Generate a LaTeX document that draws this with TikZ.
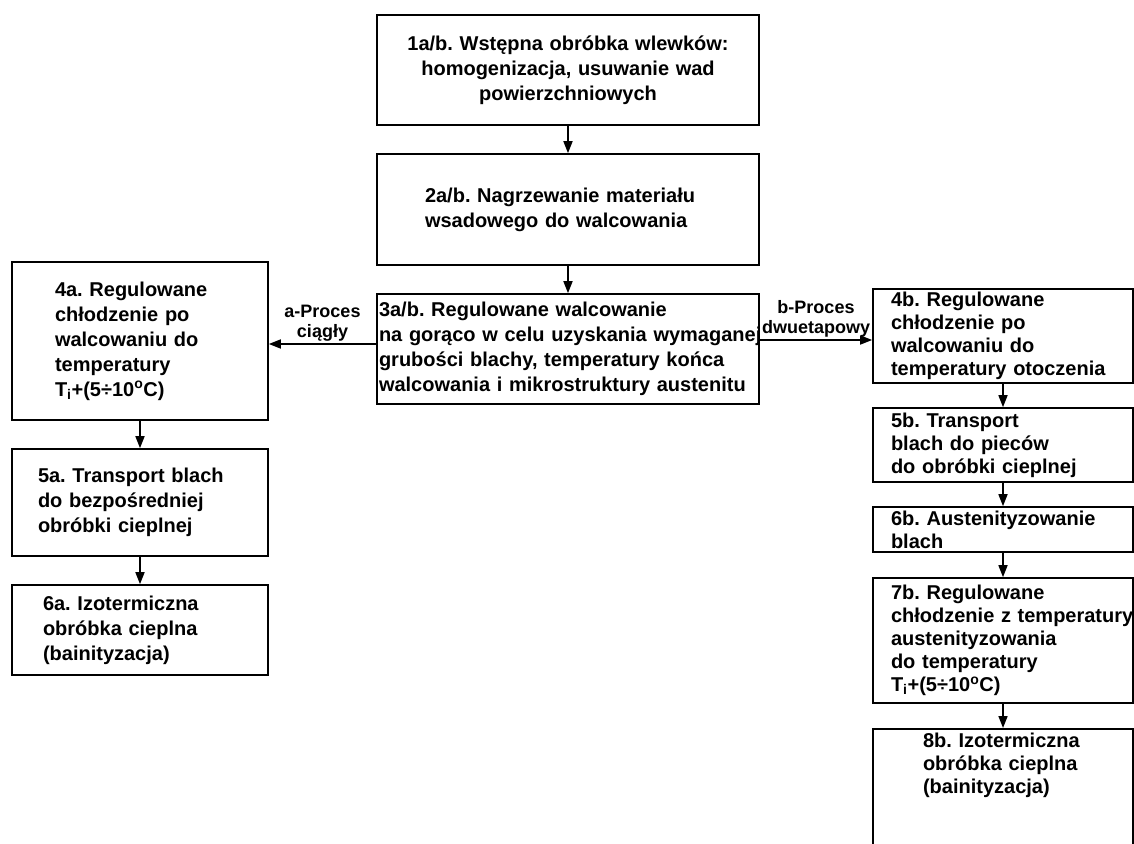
\documentclass[tikz,border=0pt]{standalone}
\usepackage{fontspec}
\setmainfont{Liberation Sans}
\usetikzlibrary{arrows.meta}
\frenchspacing
\hyphenpenalty=10000
\exhyphenpenalty=10000
\newcommand{\tempTi}{T\textsubscript{i}+(5÷10\textsuperscript{o}C)}
\newcommand{\boxfont}{\fontsize{20}{25}\selectfont\bfseries}
\newcommand{\boxfontB}{\fontsize{20}{23}\selectfont\bfseries}
\newcommand{\lblfont}{\fontsize{18}{20}\selectfont\bfseries}

\begin{document}
\begin{tikzpicture}[x=1pt,y=-1pt,
  stepbox/.style n args={3}{draw, line width=1.6pt, align=left, inner sep=0pt,
    font=\boxfont, minimum width=#1pt, minimum height=#2pt, text width=#3pt},
  arr/.style={line width=1.6pt, -{Triangle[length=12pt,width=9pt]}},
  lbl/.style={font=\lblfont, align=center, inner sep=2pt}]

 \useasboundingbox (0,0) rectangle (1134,843);
 \clip (0,0) rectangle (1134,843);

 \node[stepbox={382}{110}{370}, align=center] (obrWst) at (568,70)
   {1a/b. Wstępna obróbka wlewków:\\ homogenizacja, usuwanie wad\\ powierzchniowych};
 \node[stepbox={382}{111}{286}] (nagrz) at (568,209.5)
   {2a/b. Nagrzewanie materiału\\ wsadowego do walcowania};
 \node[stepbox={382}{110}{378}] (walc) at (568,349)
   {3a/b. Regulowane walcowanie\\ \mbox{na gorąco w celu uzyskania wymaganej}\\ grubości blachy, temperatury końca\\ walcowania i mikrostruktury austenitu};

 \node[stepbox={256}{158}{170}] (chlA) at (140,341)
   {4a. Regulowane\\ chłodzenie po\\ walcowaniu do\\ temperatury\\ \tempTi};
 \node[stepbox={256}{107}{204}] (trA) at (140,502.5)
   {5a. Transport blach\\ do bezpośredniej\\ obróbki cieplnej};
 \node[stepbox={256}{90}{194}] (izoA) at (140,630)
   {6a. Izotermiczna\\ obróbka cieplna\\ (bainityzacja)};

 \node[stepbox={260}{94}{224}, font=\boxfontB] (chlB) at (1003,336)
   {4b. Regulowane\\ chłodzenie po\\ walcowaniu do\\ temperatury otoczenia};
 \node[stepbox={260}{74}{224}, font=\boxfontB] (trB) at (1003,445)
   {5b. Transport\\ blach do pieców\\ do obróbki cieplnej};
 \node[stepbox={260}{45}{224}, font=\boxfontB] (austB) at (1003,529.5)
   {6b. Austenityzowanie\\ blach};
 \node[stepbox={260}{125}{224}, font=\boxfontB] (chlzB) at (1003,640.5)
   {7b. Regulowane\\ \mbox{chłodzenie z temperatury}\\ austenityzowania\\ do temperatury\\ \tempTi};
 \node[stepbox={260}{0}{160}, font=\boxfontB, anchor=north, inner ysep=4pt, text depth=120pt] (izoB) at (1003,728)
   {\mbox{8b. Izotermiczna}\\ obróbka cieplna\\ (bainityzacja)};

 \draw[arr] (obrWst) -- (nagrz);
 \draw[arr] (nagrz) -- (walc);
 \draw[arr] ([yshift=5pt]walc.west) -- ([yshift=5pt]walc.west -| chlA.east)
   node[lbl, midway, above] {a-Proces\\ ciągły};
 \draw[arr] ([yshift=9pt]walc.east) -- ([yshift=9pt]walc.east -| chlB.west)
   node[lbl, midway, above] {b-Proces\\ dwuetapowy};
 \draw[arr] (chlA) -- (trA);
 \draw[arr] (trA) -- (izoA);
 \draw[arr] (chlB) -- (trB);
 \draw[arr] (trB) -- (austB);
 \draw[arr] (austB) -- (chlzB);
 \draw[arr] (chlzB) -- (izoB);

\end{tikzpicture}
\end{document}
